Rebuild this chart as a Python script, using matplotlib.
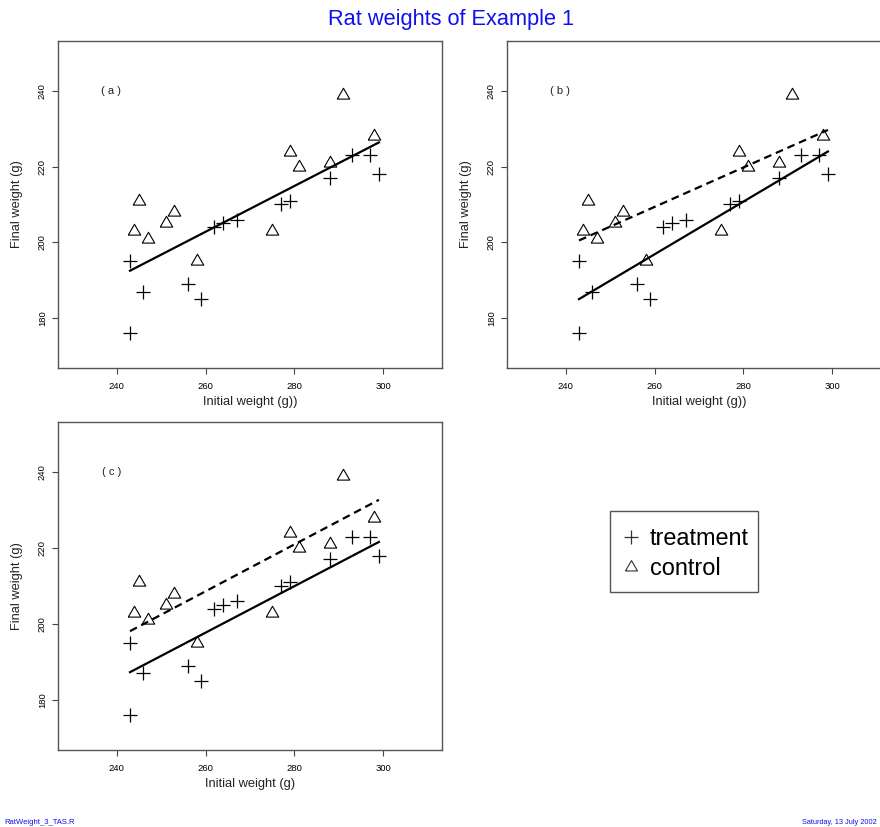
import matplotlib
matplotlib.use("Agg")
import matplotlib.pyplot as plt
from matplotlib.lines import Line2D
from matplotlib.patches import Rectangle

plt.rcParams["font.family"] = ["Liberation Sans", "DejaVu Sans"]

# ── Data ──────────────────────────────────────────────────────────────────────
trt_init  = [243, 243, 246, 256, 259, 262, 264, 267, 277, 279, 288, 293, 297, 299]
trt_final = [195, 176, 187, 189, 185, 204, 205, 206, 210, 211, 217, 223, 223, 218]
ctl_init  = [245, 244, 247, 251, 253, 258, 275, 279, 281, 288, 291, 298]
ctl_final = [211, 203, 201, 205, 208, 195, 203, 224, 220, 221, 239, 228]

# fitted line ends
fit_x     = [243, 299]
fit_a     = [192.5, 226.4]          # one common line
fit_b_trt = [185.0, 224.0]          # separate lines
fit_b_ctl = [200.5, 229.7]
fit_c_trt = [187.3, 221.6]          # parallel lines
fit_c_ctl = [198.1, 232.7]

x_ticks = [240, 260, 280, 300]
y_ticks = [180, 200, 220, 240]
# ─────────────────────────────────────────────────────────────────────────────

W, H = 880, 827
fig = plt.figure(figsize=(W / 100, H / 100), dpi=100)

# R style open triangle (pch = 2), equilateral, centred on the point
TRI = [(-1.0, -0.577), (1.0, -0.577), (0.0, 1.155), (-1.0, -0.577)]

def px_axes(l, t, r, b):
    return fig.add_axes([l / W, 1 - b / H, (r - l) / W, (b - t) / H])

def panel(ax, tag, xlabel, lines):
    ax.plot(trt_init, trt_final, linestyle="none", marker="+", ms=10, mew=0.9, color="black")
    ax.plot(ctl_init, ctl_final, linestyle="none", marker=TRI, ms=10.4, mew=0.8,
            mfc="none", mec="black")
    for y, dashed in lines:
        ln, = ax.plot(fit_x, y, color="black", lw=1.6)
        if dashed:
            ln.set_dashes((3.5, 2.2))
    ax.set_xlim(226.8, 313.2)
    ax.set_ylim(166.8, 253.2)
    ax.set_xticks(x_ticks)
    ax.set_yticks(y_ticks)
    ax.tick_params(length=4, width=0.8, color="#444444", labelsize=6.8, pad=6)
    ax.tick_params(axis="y", pad=4)
    for lab in ax.get_yticklabels():
        lab.set_rotation(90)
        lab.set_va("center")
    for s in ax.spines.values():
        s.set_color("#555555")
        s.set_linewidth(1.0)
    ax.set_xlabel(xlabel, fontsize=9.3, color="#222222", labelpad=4)
    ax.set_ylabel("Final weight (g)", fontsize=9.3, color="#222222", labelpad=11)
    ax.text(238.8, 240, f"( {tag} )", fontsize=8, ha="center", va="center", color="#222222")

ax_a = px_axes(58, 41, 442, 368)
panel(ax_a, "a", "Initial weight (g))", [(fit_a, False)])

ax_b = px_axes(507, 41, 891, 368)
panel(ax_b, "b", "Initial weight (g))", [(fit_b_trt, False), (fit_b_ctl, True)])

ax_c = px_axes(58, 422, 442, 750)
panel(ax_c, "c", "Initial weight (g)", [(fit_c_trt, False), (fit_c_ctl, True)])

fig.text(451 / W, 1 - 20 / H, "Rat weights of Example 1", color="#1010ee",
         fontsize=15.7, ha="center", va="center")

# legend: entries without frame, box drawn separately (R legend proportions)
handles = [
    Line2D([], [], linestyle="none", marker="+", ms=10.5, mew=0.9, color="#333333"),
    Line2D([], [], linestyle="none", marker=TRI, ms=10, mew=0.8, mfc="none", mec="#333333"),
]
fig.legend(handles, ["treatment", "control"], loc="center left",
           bbox_to_anchor=(619 / W, 1 - 553.5 / H), borderaxespad=0, borderpad=0,
           fontsize=16.9, frameon=False, handlelength=1.0, handletextpad=0.3,
           labelspacing=0.28)
fig.patches.append(Rectangle((610 / W, 1 - 592 / H), 148 / W, 81 / H,
                             transform=fig.transFigure, fill=False,
                             edgecolor="#555555", linewidth=1.0))

fig.text(4 / W, 1 - 822 / H, "RatWeight_3_TAS.R", color="#1010ee", fontsize=5.5,
         ha="left", va="center")
fig.text(877 / W, 1 - 822 / H, "Saturday, 13 July 2002", color="#1010ee", fontsize=5.3,
         ha="right", va="center")

fig.savefig("out.png", dpi=100)
